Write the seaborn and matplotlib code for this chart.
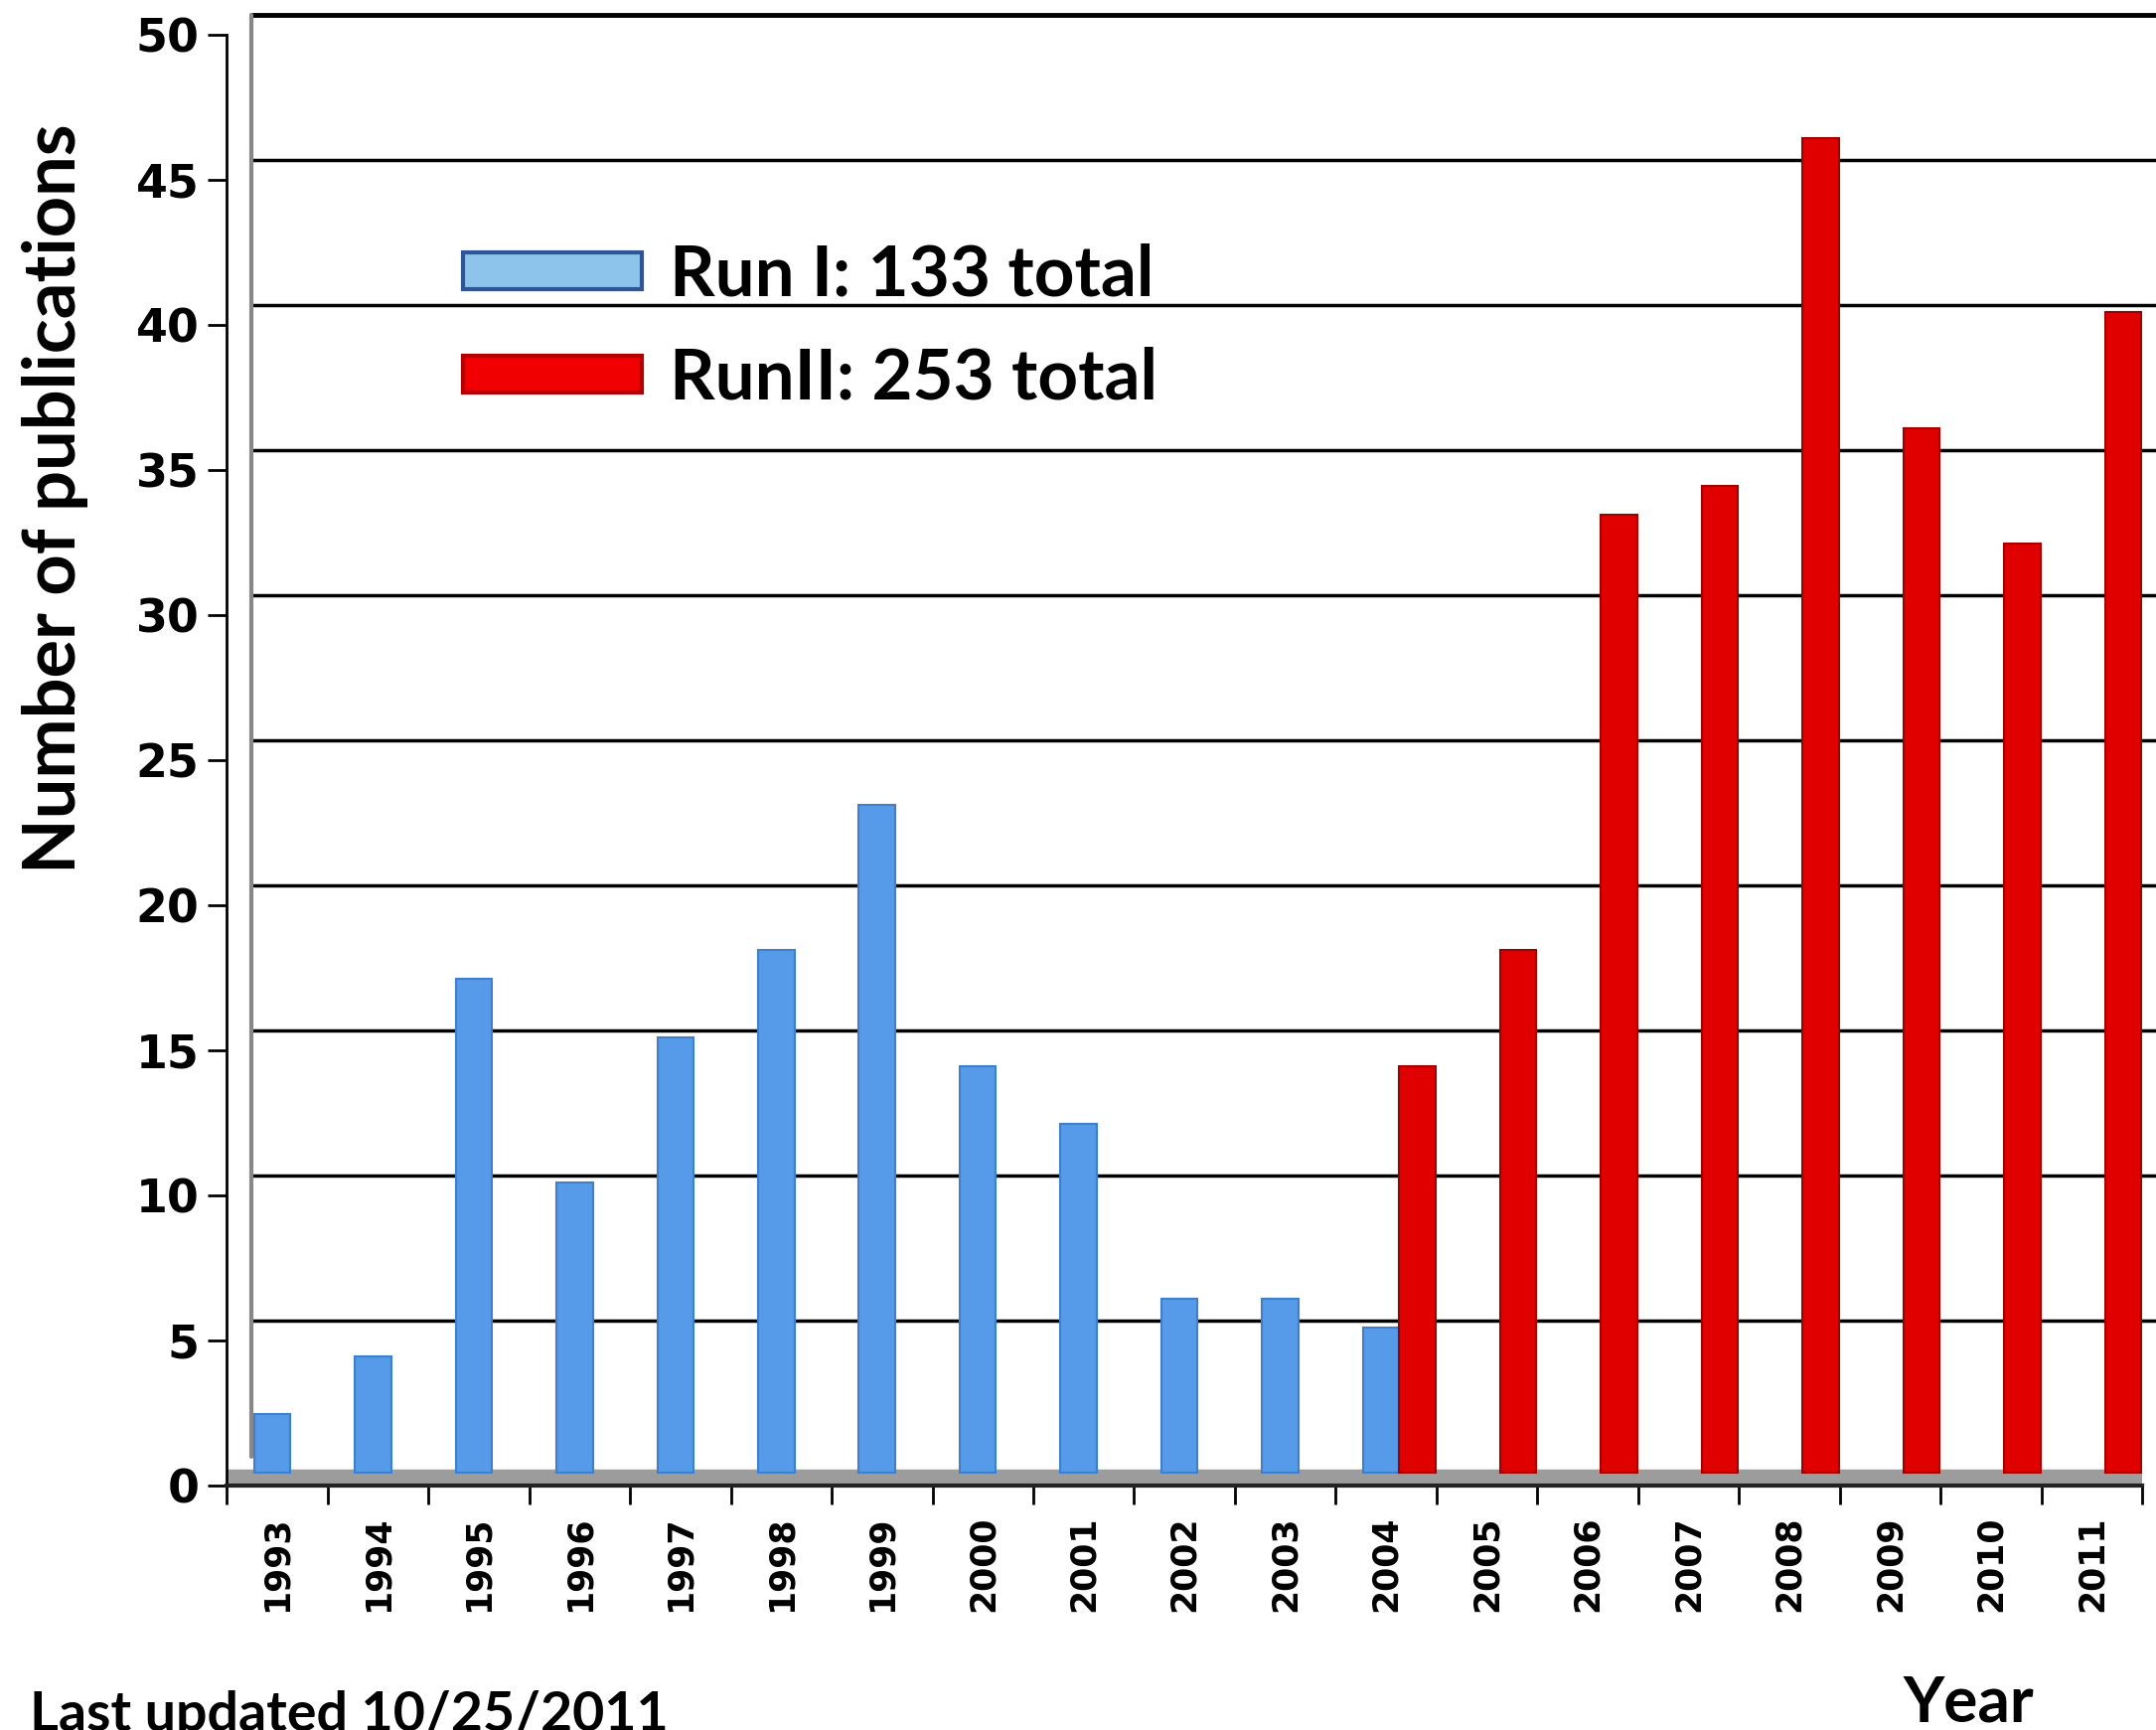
import pandas as pd
import matplotlib.pyplot as plt
import seaborn as sns
from matplotlib.ticker import FixedLocator
from matplotlib.transforms import ScaledTranslation

# values
years = list(range(1993, 2012))
run1_years = list(range(1993, 2005))
run1_counts = [2, 4, 17, 10, 15, 18, 23, 14, 12, 6, 6, 5]
run2_years = list(range(2004, 2012))
run2_counts = [14, 18, 33, 34, 46, 36, 32, 40]
run_labels = ["Run I: 133 total", "RunII: 253 total"]
y_ticks = list(range(0, 51, 5))

df = pd.concat([
    pd.DataFrame({"year": run1_years, "n": run1_counts, "run": run_labels[0]}),
    pd.DataFrame({"year": run2_years, "n": run2_counts, "run": run_labels[1]}),
])
df["year"] = pd.Categorical(df["year"].astype(str), categories=[str(y) for y in years])

sns.set_style("white")
plt.rcParams["font.family"] = ["Lato", "DejaVu Sans"]
plt.rcParams["text.color"] = "black"
plt.rcParams["xtick.color"] = "black"
plt.rcParams["ytick.color"] = "black"

fig = plt.figure(figsize=(21.7, 17.41), dpi=100)
ax = fig.add_axes([0.1052, 0.1414, 0.8884, 0.8386])

sns.barplot(data=df, x="year", y="n", hue="run", hue_order=run_labels,
            palette=["#559BEA", "#E00000"], width=0.72, dodge=True,
            saturation=1, ax=ax, zorder=3)

# fake 3D look: bars and back wall sit a bit up and to the right
back = ax.transData + ScaledTranslation(0, 0.13, fig.dpi_scale_trans)
wall = ax.transData + ScaledTranslation(0.25, 0.2, fig.dpi_scale_trans)
grid_tr = ax.get_yaxis_transform() + ScaledTranslation(0.25, 0.2, fig.dpi_scale_trans)
for p in ax.patches:
    p.set_x(p.get_x() + 0.13)
    p.set_transform(back)
    if p.get_facecolor()[0] > 0.8:
        p.set_edgecolor("#A00000")
    else:
        p.set_edgecolor("#3F7FCC")
    p.set_linewidth(1.5)

ax.set_xlim(-0.5, len(years) - 0.5)
ax.set_ylim(0, 50)
ax.set_yticks(y_ticks)
ax.set_yticklabels([str(v) for v in y_ticks], fontsize=33, fontweight="bold",
                   family=["Liberation Sans Narrow", "DejaVu Sans"])
ax.tick_params(axis="y", length=14, width=2, pad=6, left=True)

# gray floor of the 3D chart
ax.axhspan(0, 0.55, color="#9C9C9C", zorder=2)

for v in y_ticks[1:]:
    ax.plot([0, 1.05], [v, v], color="black", lw=3.5 if v == 50 else 2.5,
            zorder=1, transform=grid_tr, clip_on=False)
ax.plot([-0.5, -0.5], [0.3, 50], color="#888888", lw=3, zorder=1,
        transform=wall, clip_on=False)

ax.set_xticks(range(len(years)))
ax.set_xticklabels([str(y) for y in years], rotation=90, fontsize=25,
                   fontweight="bold", family="DejaVu Sans")
ax.tick_params(axis="x", which="major", length=0, pad=22)
ax.xaxis.set_minor_locator(FixedLocator([i - 0.5 for i in range(len(years) + 1)]))
ax.tick_params(axis="x", which="minor", length=14, width=2, bottom=True)

for s in ["top", "right"]:
    ax.spines[s].set_visible(False)
ax.spines["left"].set_linewidth(2)
ax.spines["left"].set_color("black")
ax.spines["bottom"].set_linewidth(3)
ax.spines["bottom"].set_color("#222222")

ax.set_xlabel("")
ax.set_ylabel("")

leg = ax.legend(loc="upper left", bbox_to_anchor=(0.09, 0.9), frameon=False,
                handlelength=2.55, handleheight=0.42, handletextpad=0.4,
                labelspacing=0.55, prop={"weight": "bold", "size": 51})
for h in leg.legend_handles:
    h.set_linewidth(3)
leg.legend_handles[0].set_facecolor("#8CC4EC")
leg.legend_handles[0].set_edgecolor("#2F5597")
leg.legend_handles[1].set_facecolor("#F00000")
leg.legend_handles[1].set_edgecolor("#B00000")

fig.text(0.0255, 0.712, "Number of publications", rotation=90, ha="center",
         va="center", fontsize=52, fontweight="bold")
fig.text(0.913, 0.032, "Year", ha="center", va="top", fontsize=46, fontweight="bold")
fig.text(0.014, 0.023, "Last updated 10/25/2011", ha="left", va="top", fontsize=40,
         fontweight="bold")

fig.savefig("out.png", dpi=100)
